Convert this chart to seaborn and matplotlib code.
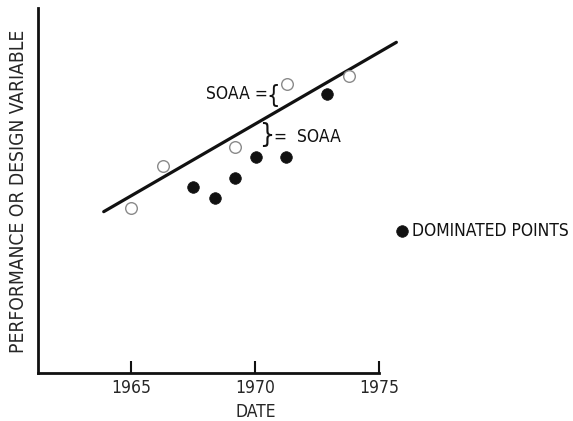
import matplotlib
matplotlib.use("Agg")
import matplotlib.pyplot as plt
import seaborn as sns
import pandas as pd

# ---- data ----
open_years = [1965.0, 1966.3, 1969.2, 1971.3, 1973.8]
open_values = [45.2, 56.7, 61.9, 79.2, 81.5]
dominated_years = [1967.5, 1968.4, 1969.2, 1970.05, 1971.25, 1972.9]
dominated_values = [51.0, 48.0, 53.5, 59.3, 59.3, 76.4]
trend_years = [1963.9, 1975.7]
trend_values = [44.2, 90.6]
tick_years = [1965, 1970, 1975]
tick_labels = ["1965", "1970", "1975"]

sns.set_theme(style="white")
plt.rcParams['font.family'] = ['DejaVu Sans']
plt.rcParams['font.stretch'] = 'condensed'
plt.rcParams['text.color'] = '#111111'

FS = 12.5
W, H = 573, 421
fig = plt.figure(figsize=(W / 100, H / 100), dpi=100)
ax_left, ax_bottom = 38, 373
ax_right, ax_top = 573, 8
ax_w, ax_h = ax_right - ax_left, ax_bottom - ax_top
ax = fig.add_axes([ax_left / W, (H - ax_bottom) / H, ax_w / W, ax_h / H])

x0 = 1965 + (ax_left - 131) / 24.8
x1 = 1965 + (ax_right - 131) / 24.8
ax.set_xlim(x0, x1)
ax.set_ylim(0, 100)

open_df = pd.DataFrame({"year": open_years, "value": open_values})
dom_df = pd.DataFrame({"year": dominated_years, "value": dominated_values})
trend_df = pd.DataFrame({"year": trend_years, "value": trend_values})

sns.lineplot(data=trend_df, x="year", y="value", ax=ax, color="#111111",
             linewidth=2.3, zorder=2)
sns.scatterplot(data=open_df, x="year", y="value", ax=ax, s=70,
                facecolor="white", edgecolor="#8a8a8a", linewidth=1.0,
                zorder=3)
sns.scatterplot(data=dom_df, x="year", y="value", ax=ax, s=70,
                color="#111111", edgecolor="#111111", linewidth=0.5,
                zorder=3, label="DOMINATED POINTS")

# spines
for s in ["top", "right"]:
    ax.spines[s].set_visible(False)
for s in ["left", "bottom"]:
    ax.spines[s].set_color("#111111")
    ax.spines[s].set_linewidth(2.0)
ax.spines["bottom"].set_bounds(x0, 1975)

ax.set_xticks(tick_years)
ax.set_xticklabels(tick_labels, fontsize=FS)
ax.set_yticks([])
ax.tick_params(axis="x", direction="in", length=8.6, width=1.5,
               color="#111111", pad=4, bottom=True)

ax.set_xlabel("DATE", fontsize=FS)
ax.xaxis.set_label_coords((256 - ax_left) / ax_w, -(403 - ax_bottom) / ax_h)
ax.set_ylabel("PERFORMANCE OR DESIGN VARIABLE", fontsize=13.8)
ax.yaxis.set_label_coords(-(ax_left - 28) / ax_w, (ax_bottom - 191.5) / ax_h)

# annotations
ax.text(1970.5, 76.4, "SOAA =", fontsize=FS, va="center", ha="right")
ax.text(1970.73, 75.8, "{", fontsize=17, va="center", ha="center")
ax.text(1970.48, 65.1, "}", fontsize=19, va="center", ha="center")
ax.text(1970.78, 64.7, "=  SOAA", fontsize=FS, va="center", ha="left")

# legend
leg = ax.legend(loc="center left",
                bbox_to_anchor=(397 / W, (H - 231) / H),
                bbox_transform=fig.transFigure, frameon=False,
                fontsize=FS, handlelength=0.6, handletextpad=0.25,
                borderpad=0, borderaxespad=0)

fig.savefig("out.png", dpi=100)
